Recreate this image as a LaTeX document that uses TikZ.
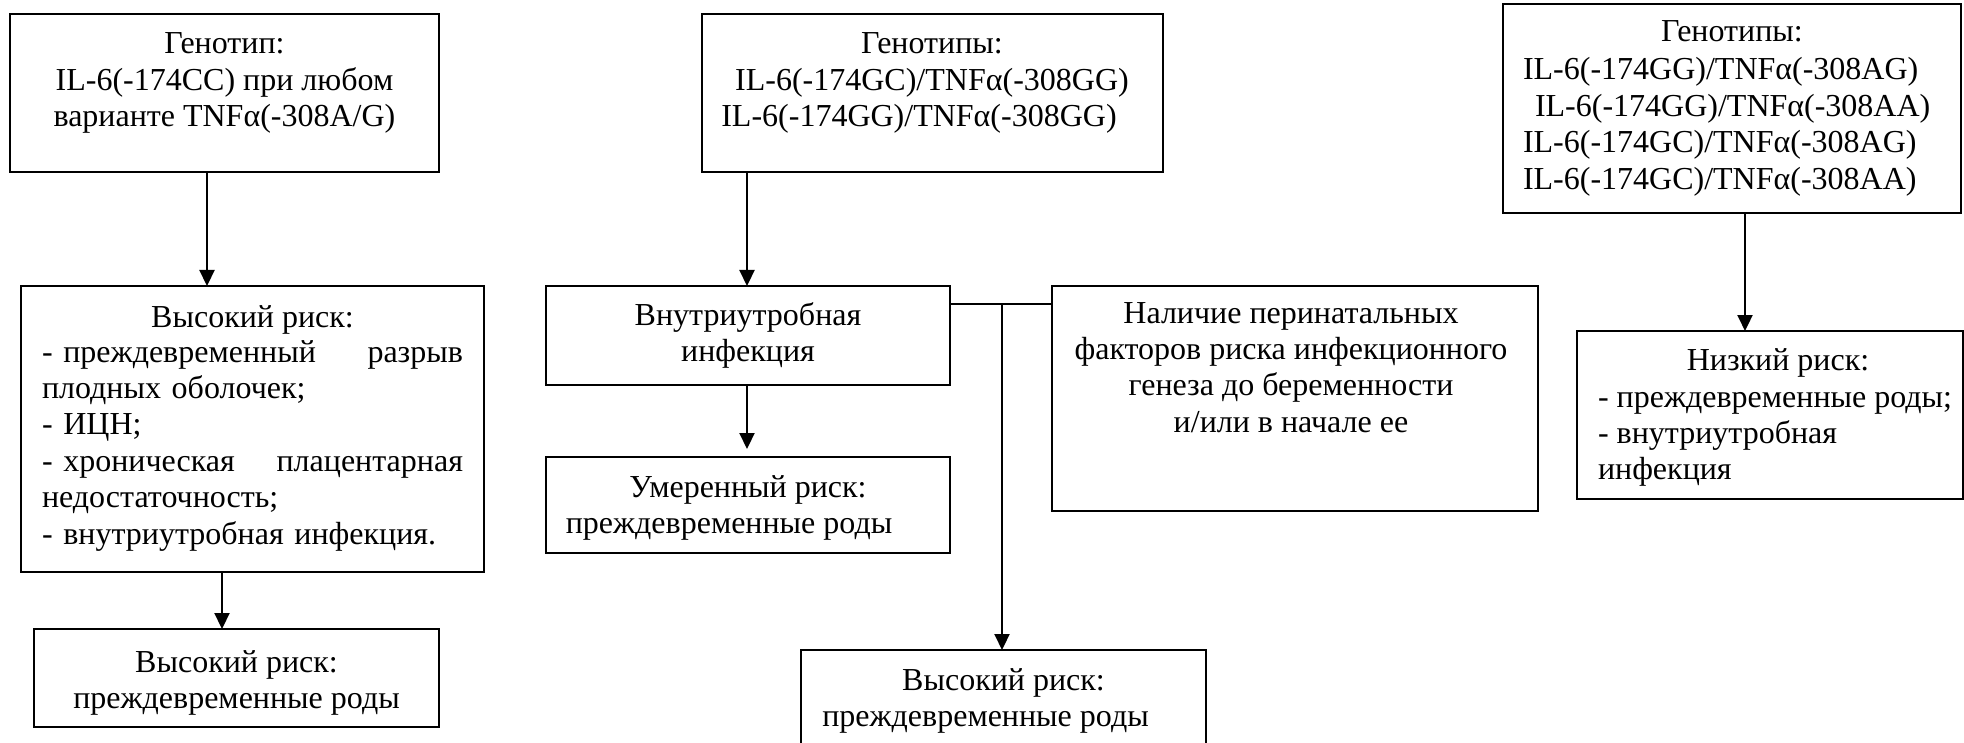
\documentclass[tikz,border=0pt]{standalone}
\usepackage{fontspec}
\setmainfont{Liberation Serif}
\usetikzlibrary{arrows.meta}
\tikzset{
  box/.style={draw, line width=1.1pt, rectangle, inner sep=0pt, outer sep=0pt},
  txt/.style={inner sep=0pt, outer sep=0pt, anchor=north, font=\fontsize{16pt}{18.2pt}\selectfont},
  ctxt/.style={txt, align=center},
  ltxt/.style={txt, anchor=north west, align=left},
  arr/.style={line width=1.1pt, -{Triangle[length=8pt,width=7.5pt]}},
  conn/.style={line width=1.1pt},
}
\newcommand\fl{\rule{0pt}{12pt}}
\newcommand\bx[5]{\node[box, minimum width={(#4-#2)*0.5pt}, minimum height={(#5-#3)*0.5pt}] (#1) at ({(#2+#4)/2},{(#3+#5)/2}) {};}
\begin{document}
\begin{tikzpicture}[x=0.5pt,y=-0.5pt]
\useasboundingbox (0,0) rectangle (1964,743);

% boxes
\bx{b1}{10}{14}{439}{172}
\bx{b2}{21}{286}{484}{572}
\bx{b3}{34}{629}{439}{727}
\bx{b4}{702}{14}{1163}{172}
\bx{b5}{546}{286}{950}{385}
\bx{b6}{1052}{286}{1538}{511}
\bx{b7}{546}{457}{950}{553}
\bx{b8}{801}{650}{1206}{752}
\bx{b9}{1503}{4}{1961}{213}
\bx{b10}{1577}{331}{1963}{499}

% texts
\node[ctxt] (t1) at (224.5,30) {\fl Генотип:\\IL-6(-174CC) при любом\\варианте TNFα(-308A/G)};
\node[ctxt] (t2h) at (252.5,304) {\fl Высокий риск:};
\node[ltxt, text width=210.5pt] (t2) at (42,338) {\fl\makebox[210.5pt][l]{-~преждевременный\hfill разрыв}\\плодных оболочек;\\-~ИЦН;\\\makebox[210.5pt][l]{-~хроническая\hfill плацентарная}\\недостаточность;\\-~внутриутробная инфекция.};
\node[ctxt] (t3) at (236.5,648) {\fl Высокий риск:\\преждевременные роды};
\node[ctxt] (t4) at (932,30) {\fl Генотипы:\\IL-6(-174GC)/TNFα(-308GG)\\IL-6(-174GG)/TNFα(-308GG)\hspace*{13pt}};
\node[ctxt] (t5) at (748,301) {\fl Внутриутробная\\инфекция};
\node[ctxt] (t7) at (748,473) {\fl Умеренный риск:\\преждевременные роды\hspace*{19pt}};
\node[ctxt] (t8) at (1003.5,666) {\fl Высокий риск:\\преждевременные роды\hspace*{18pt}};
\node[ctxt] (t6) at (1291,299) {\fl Наличие перинатальных\\факторов риска инфекционного\\генеза до беременности\\и/или в начале ее};
\node[ctxt] (t9h) at (1732,18) {\fl Генотипы:};
\node[ltxt] (t9) at (1523,56) {\fl IL-6(-174GG)/TNFα(-308AG)\\\hspace*{6pt}IL-6(-174GG)/TNFα(-308AA)\\IL-6(-174GC)/TNFα(-308AG)\\IL-6(-174GC)/TNFα(-308AA)};
\node[ctxt] (t10h) at (1778,346) {\fl Низкий риск:};
\node[ltxt] (t10) at (1598,383) {\fl -~преждевременные роды;\\-~внутриутробная\\инфекция};

% connectors
\coordinate (x1) at (207,0);
\coordinate (x2) at (222,0);
\coordinate (x3) at (747,0);
\coordinate (y1) at (0,304);
\coordinate (j1) at (1002,304);
\coordinate (x5) at (1745,0);
\draw[arr] (b1.south -| x1) -- (b2.north -| x1);
\draw[arr] (b2.south -| x2) -- (b3.north -| x2);
\draw[arr] (b4.south -| x3) -- (b5.north -| x3);
\draw[arr, shorten >=4pt] (b5.south -| x3) -- (b7.north -| x3);
\draw[conn] (b5.east |- y1) -- (b6.west |- y1);
\draw[arr] (j1) -- (b8.north -| j1);
\draw[arr] (b9.south -| x5) -- (b10.north -| x5);
\end{tikzpicture}
\end{document}
